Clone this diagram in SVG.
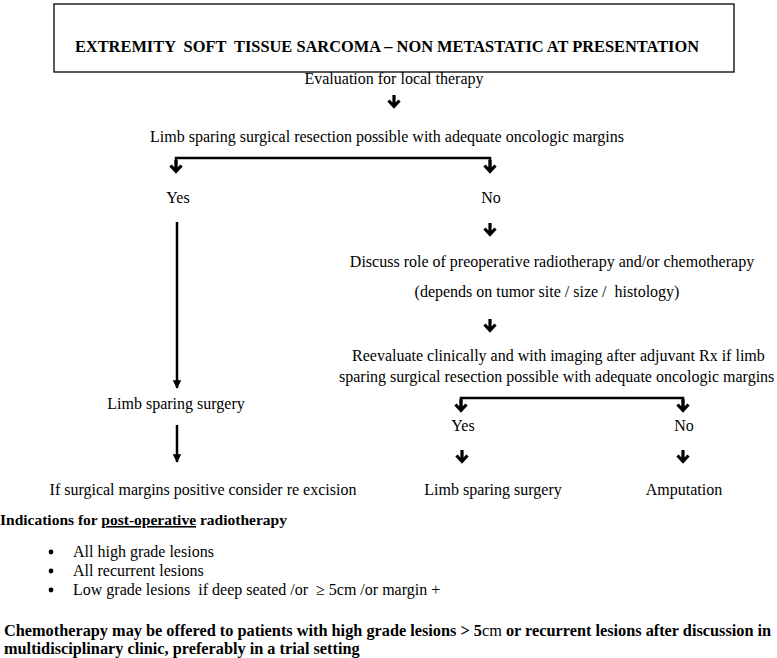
<svg xmlns="http://www.w3.org/2000/svg" width="777" height="658" viewBox="0 0 777 658">
<defs>
<style>
text{font-family:"Liberation Serif","Times New Roman",serif;font-size:16px;fill:#000;white-space:pre}
.b{font-weight:bold}
.line{stroke:#000;stroke-width:2.5;fill:none}
.chev{stroke:#000;stroke-width:3.2;fill:none;stroke-linejoin:miter}
</style>
<path id="arr" d="M0,0 V11 M-5.5,5.5 L0,11.5 L5.5,5.5" class="chev"/>
<marker id="tri" viewBox="0 0 10 10" refX="9" refY="5" markerWidth="3.4" markerHeight="3.4" orient="auto" markerUnits="strokeWidth"><path d="M0,0 L10,5 L0,10 z" fill="#000"/></marker>
</defs>
<rect width="777" height="658" fill="#fff"/>
<g id="title">
<rect x="54" y="4" width="680" height="68" fill="none" stroke="#000" stroke-width="1.3"/>
<text class="b" x="387" y="52" text-anchor="middle" style="font-size:16.4px">EXTREMITY  SOFT  TISSUE SARCOMA – NON METASTATIC AT PRESENTATION</text>
</g>
<g id="eval"><text x="394" y="84" text-anchor="middle">Evaluation for local therapy</text></g>
<g id="q1"><text x="387" y="142" text-anchor="middle">Limb sparing surgical resection possible with adequate oncologic margins</text></g>
<g id="yes1"><text x="178" y="203" text-anchor="middle">Yes</text></g>
<g id="no1"><text x="491" y="203" text-anchor="middle">No</text></g>
<g id="discuss"><text x="552" y="267" text-anchor="middle">Discuss role of preoperative radiotherapy and/or chemotherapy</text></g>
<g id="depends"><text x="547" y="297" text-anchor="middle">(depends on tumor site / size /  histology)</text></g>
<g id="reeval"><text x="352" y="361">Reevaluate clinically and with imaging after adjuvant Rx if limb</text><text x="339" y="382">sparing surgical resection possible with adequate oncologic margins</text></g>
<g id="surg1"><text x="176" y="409" text-anchor="middle">Limb sparing surgery</text></g>
<g id="yes2"><text x="463" y="431" text-anchor="middle">Yes</text></g>
<g id="no2"><text x="684" y="431" text-anchor="middle">No</text></g>
<g id="reexc"><text x="203" y="495" text-anchor="middle">If surgical margins positive consider re excision</text></g>
<g id="surg2"><text x="493" y="495" text-anchor="middle">Limb sparing surgery</text></g>
<g id="amp"><text x="684" y="495" text-anchor="middle">Amputation</text></g>
<g id="indications">
<text class="b" x="0" y="525" style="font-size:15.5px">Indications for <tspan text-decoration="underline">post-operative</tspan> radiotherapy</text>
<circle cx="51" cy="552" r="2.4"/><text x="73" y="557">All high grade lesions</text>
<circle cx="51" cy="571" r="2.4"/><text x="73" y="576">All recurrent lesions</text>
<circle cx="51" cy="590" r="2.4"/><text x="73" y="595">Low grade lesions  if deep seated /or  ≥ 5cm /or margin +</text>
</g>
<g id="chemo">
<text class="b" x="4" y="636" style="font-size:16.3px">Chemotherapy may be offered to patients with high grade lesions &gt; 5<tspan font-weight="normal">cm</tspan> or recurrent lesions after discussion in</text>
<text class="b" x="4" y="654" style="font-size:16.3px">multidisciplinary clinic, preferably in a trial setting</text>
</g>
<g id="connectors">
<use href="#arr" x="394" y="95"/>
<path class="line" d="M176,170 V158 H490 V170"/>
<use href="#arr" x="176" y="160"/>
<use href="#arr" x="490" y="160"/>
<use href="#arr" x="490" y="223"/>
<use href="#arr" x="490" y="319"/>
<line class="line" x1="177" y1="222" x2="177" y2="388" marker-end="url(#tri)"/>
<line class="line" x1="177" y1="425" x2="177" y2="462" marker-end="url(#tri)"/>
<path class="line" d="M461,408 V398 H683 V408"/>
<use href="#arr" x="461" y="399"/>
<use href="#arr" x="683" y="399"/>
<use href="#arr" x="462" y="450"/>
<use href="#arr" x="683" y="450"/>
</g>
</svg>
